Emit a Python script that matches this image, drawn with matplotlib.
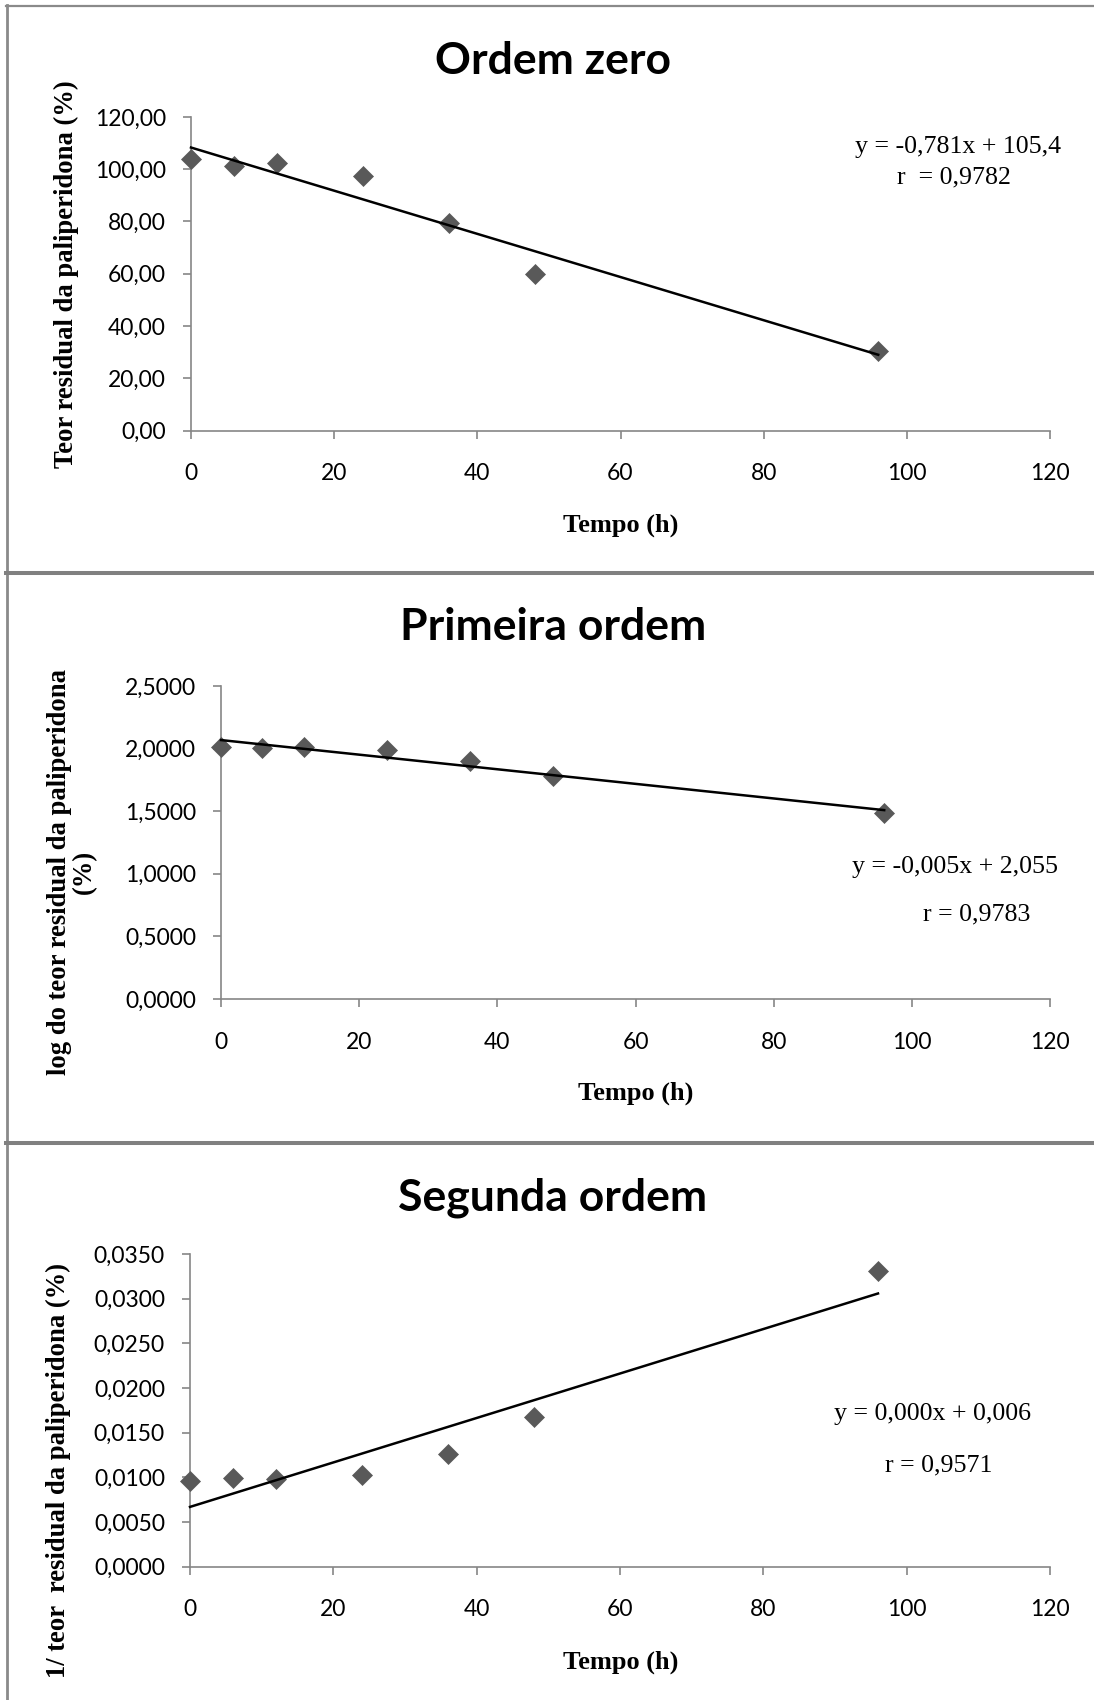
import matplotlib
matplotlib.use("Agg")
import matplotlib.pyplot as plt
import numpy as np
from matplotlib.lines import Line2D
from matplotlib.ticker import FuncFormatter, MultipleLocator

# ---------------- data ----------------
tempo = [0, 6, 12, 24, 36, 48, 96]
teor = [103.8, 101.3, 102.5, 97.4, 79.4, 60.0, 30.4]
log_teor = [2.016, 2.006, 2.011, 1.989, 1.900, 1.778, 1.483]
inv_teor = [0.00963, 0.00987, 0.00976, 0.01027, 0.01262, 0.01670, 0.03315]

titles = ["Ordem zero", "Primeira ordem", "Segunda ordem"]
ylabels = ["Teor residual da paliperidona (%)",
           "log do teor residual da paliperidona\n(%)",
           "1/ teor  residual da paliperidona (%)"]
xlabel = "Tempo (h)"
eq_texts = [["y = -0,781x + 105,4", "r  = 0,9782"],
            ["y = -0,005x + 2,055", "r = 0,9783"],
            ["y = 0,000x + 0,006", "r = 0,9571"]]
x_ticks = [0, 20, 40, 60, 80, 100, 120]
y_ranges = [(0, 120, 20, 2), (0, 2.5, 0.5, 4), (0, 0.035, 0.005, 4)]

# ---------------- layout (pixels) ----------------
W, H = 1094, 1700
fig = plt.figure(figsize=(W / 100, H / 100), dpi=100)

def fx(px):
    return px / W

def fy(py):
    return 1 - py / H

# axes boxes: left, right, top, bottom (pixels)
boxes = [(191, 1050, 117, 430.5), (221, 1050, 686, 999), (190, 1050, 1254, 1566.5)]
title_base = [74, 640, 1211]
xlabel_base = [532, 1100, 1669]
xlabel_cx = [621, 636, 621]
ylabel_pos = [(66, 274), (72, 872), (58, 1470)]
eq_pos = [[(958, 153), (954, 183)], [(955, 873), (977, 920)], [(932, 1420), (939, 1471)]]

gray = "#868686"
marker_col = "#595959"
serif = "Liberation Serif"
sans = "Lato"

datasets = [teor, log_teor, inv_teor]

for i in range(3):
    l, r, t, b = boxes[i]
    ax = fig.add_axes([fx(l), fy(b), fx(r) - fx(l), (b - t) / H])
    ydata = datasets[i]
    ax.plot(tempo, ydata, linestyle="none", marker="D", markersize=10.5,
            color=marker_col, markeredgecolor=marker_col, markeredgewidth=0.5,
            clip_on=False, zorder=3)
    k, c = np.polyfit(tempo, ydata, 1)
    xs = np.array([min(tempo), max(tempo)])
    ax.plot(xs, k * xs + c, color="black", linewidth=1.8, zorder=4, clip_on=False)

    y0, y1, ystep, dec = y_ranges[i]
    ax.set_xlim(0, 120)
    ax.set_ylim(y0, y1)
    ax.set_xticks(x_ticks)
    ax.yaxis.set_major_locator(MultipleLocator(ystep))
    ax.yaxis.set_major_formatter(FuncFormatter(
        lambda v, p, d=dec: (f"{v:.{d}f}").replace(".", ",")))
    for s in ["top", "right"]:
        ax.spines[s].set_visible(False)
    for s in ["left", "bottom"]:
        ax.spines[s].set_color(gray)
        ax.spines[s].set_linewidth(1.2)
    ax.tick_params(axis="both", direction="out", length=6, width=1.2, color=gray,
                   labelsize=16.5, labelcolor="black")
    ax.tick_params(axis="x", pad=17.5)
    ax.tick_params(axis="y", pad=12)
    for lab in ax.get_xticklabels() + ax.get_yticklabels():
        lab.set_fontfamily(sans)

    # title
    fig.text(fx(553), fy(title_base[i]), titles[i], ha="center", va="baseline",
             fontsize=32, fontweight="bold", family=sans)
    # x label
    fig.text(fx(xlabel_cx[i]), fy(xlabel_base[i]), xlabel, ha="center", va="baseline",
             fontsize=19, fontweight="bold", family=serif)
    # y label
    yx, yy = ylabel_pos[i]
    fig.text(fx(yx), fy(yy), ylabels[i], ha="center", va="center", rotation=90,
             fontsize=19.2, fontweight="bold", family=serif, linespacing=1.0,
             multialignment="center")
    # equations
    for (ex, ey), txt in zip(eq_pos[i], eq_texts[i]):
        fig.text(fx(ex), fy(ey), txt, ha="center", va="baseline",
                 fontsize=18.6, family=serif)

# ---------------- frame / separators ----------------
frame_col = "#8a8a8a"
fig.add_artist(Line2D([fx(7), fx(7)], [fy(4.5), fy(1700)], transform=fig.transFigure,
                      color=frame_col, linewidth=2.0))
fig.add_artist(Line2D([fx(6), fx(1094)], [fy(5.5), fy(5.5)], transform=fig.transFigure,
                      color=frame_col, linewidth=1.6))
for sy in [572.5, 1142.5]:
    fig.add_artist(Line2D([fx(6), fx(1094)], [fy(sy), fy(sy)], transform=fig.transFigure,
                          color="#808080", linewidth=2.9))

fig.savefig("out.png", dpi=100, facecolor="white")
